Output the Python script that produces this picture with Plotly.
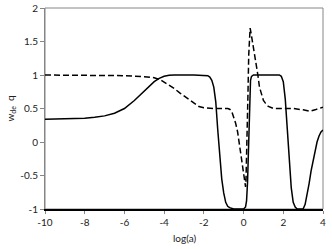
import plotly.graph_objects as go

# solid curve: w
w_x = [-10, -9, -8, -7.5, -7, -6.5, -6, -5.5, -5, -4.75, -4.5, -4.25, -4.0, -3.75, -3.5,
       -2.5, -2.0, -1.8, -1.7, -1.6, -1.5, -1.4, -1.3, -1.2, -1.1, -1.0, -0.9, -0.8, -0.7,
       -0.5, 0.0, 0.1, 0.15, 0.2, 0.25, 0.3, 0.35, 0.4, 0.5,
       1.8, 1.9, 2.0, 2.1, 2.2, 2.3, 2.4, 2.5, 2.6, 2.7, 2.9, 3.0,
       3.1, 3.2, 3.3, 3.4, 3.5, 3.6, 3.7, 3.8, 3.9, 4.0]
w_y = [0.34, 0.345, 0.355, 0.37, 0.39, 0.43, 0.5, 0.62, 0.76, 0.83, 0.9, 0.95, 0.98, 0.995, 1.0,
       1.0, 1.0, 0.99, 0.97, 0.92, 0.82, 0.6, 0.18, -0.23, -0.55, -0.76, -0.9, -0.96, -0.98,
       -1.0, -1.0, -0.97, -0.88, -0.6, -0.1, 0.6, 0.92, 0.98, 1.0,
       1.0, 0.98, 0.9, 0.64, 0.2, -0.24, -0.68, -0.9, -0.97, -1.0, -1.0, -1.0,
       -0.93, -0.8, -0.62, -0.43, -0.27, -0.12, 0.0, 0.09, 0.15, 0.18]

# dashed curve: q
q_x = [-10, -8, -7, -6, -5, -4.5, -4.2, -3.8, -3.5, -3.2, -2.9, -2.5, -2.25, -2.0, -1.5,
       -0.8, -0.7, -0.6, -0.5, -0.4, -0.3, -0.2, -0.1, 0.0, 0.05, 0.1, 0.12, 0.18, 0.22,
       0.26, 0.3, 0.33, 0.38, 0.45, 0.55, 0.65, 0.72, 0.8, 0.9, 1.0, 1.1, 1.25, 1.5,
       2.0, 2.5, 3.0, 3.35, 3.6, 4.0]
q_y = [1.0, 1.0, 0.995, 0.99, 0.975, 0.96, 0.93, 0.86, 0.8, 0.73, 0.67, 0.58, 0.53, 0.51, 0.5,
       0.5, 0.49, 0.46, 0.37, 0.28, 0.15, -0.07, -0.3, -0.47, -0.58, -0.67, -0.6, 0.0, 0.7,
       1.3, 1.6, 1.7, 1.62, 1.5, 1.35, 1.15, 1.0, 0.82, 0.7, 0.62, 0.58, 0.53, 0.5,
       0.5, 0.5, 0.48, 0.46, 0.48, 0.52]

x_ticks = [-10, -8, -6, -4, -2, 0, 2, 4]
y_ticks = [-1, -0.5, 0, 0.5, 1, 1.5, 2]

fig = go.Figure()
fig.add_trace(go.Scatter(x=q_x, y=q_y, mode="lines",
                         line=dict(color="black", width=1.5, dash="6px,3px")))
fig.add_trace(go.Scatter(x=w_x, y=w_y, mode="lines",
                         line=dict(color="black", width=1.5)))

font = dict(family="Lato, Open Sans, sans-serif", size=10, color="#222222")
fig.update_layout(
    width=332, height=249,
    margin=dict(l=45, r=9, t=8, b=40, autoexpand=False),
    paper_bgcolor="white", plot_bgcolor="white",
    showlegend=False,
    font=font,
    xaxis=dict(range=[-10, 4], tickvals=x_ticks, ticktext=[str(v) for v in x_ticks],
               showgrid=False, zeroline=False, showline=True, linecolor="black", linewidth=1.5,
               ticks="outside", ticklen=3, tickcolor="#868686", automargin=False),
    yaxis=dict(range=[-1, 2], tickvals=y_ticks, ticktext=[str(v) for v in y_ticks],
               showgrid=False, zeroline=False, showline=True, linecolor="#868686", linewidth=1,
               ticks="outside", ticklen=4, tickcolor="#868686", automargin=False),
    shapes=[dict(type="rect", xref="paper", yref="paper", x0=0, x1=1, y0=0, y1=1,
                 line=dict(color="#868686", width=1), layer="below")],
    annotations=[
        dict(text="log(a)", xref="paper", yref="paper", x=0.5, y=0, yshift=-29,
             xanchor="center", yanchor="middle", showarrow=False, font=font),
        dict(text="w<sub>de</sub>  q", xref="paper", yref="paper", x=0, y=0.5, xshift=-35,
             xanchor="center", yanchor="middle", textangle=-90, showarrow=False, font=font),
    ],
)
fig.write_html("out.html", config={"displayModeBar": False},
               post_script="document.body.style.margin='0';document.body.style.overflow='hidden';")
